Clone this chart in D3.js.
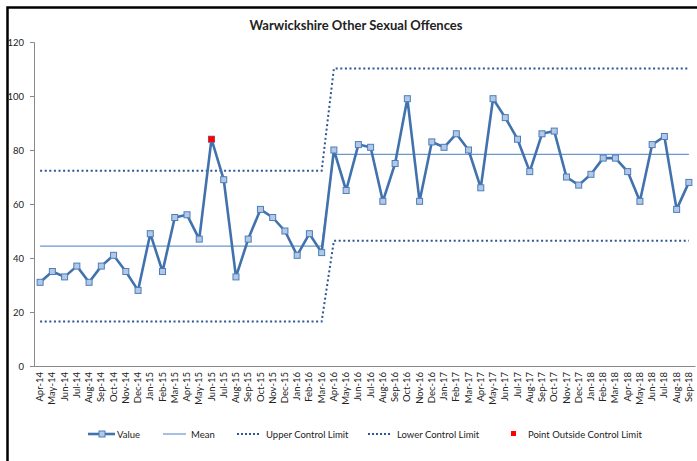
<!DOCTYPE html>
<html>
<head>
<meta charset="utf-8">
<script src="https://cdn.jsdelivr.net/npm/d3@7"></script>
<style>
  body { margin: 0; background: #fff; }
  svg text { font-family: Lato, "Open Sans", sans-serif; fill: #222; }
</style>
</head>
<body>
<script>
// chart data
var months = ["Apr-14","May-14","Jun-14","Jul-14","Aug-14","Sep-14","Oct-14","Nov-14","Dec-14",
  "Jan-15","Feb-15","Mar-15","Apr-15","May-15","Jun-15","Jul-15","Aug-15","Sep-15","Oct-15","Nov-15","Dec-15",
  "Jan-16","Feb-16","Mar-16","Apr-16","May-16","Jun-16","Jul-16","Aug-16","Sep-16","Oct-16","Nov-16","Dec-16",
  "Jan-17","Feb-17","Mar-17","Apr-17","May-17","Jun-17","Jul-17","Aug-17","Sep-17","Oct-17","Nov-17","Dec-17",
  "Jan-18","Feb-18","Mar-18","Apr-18","May-18","Jun-18","Jul-18","Aug-18","Sep-18"];
var values = [31,35,33,37,31,37,41,35,28,
  49,35,55,56,47,84,69,33,47,58,55,50,
  41,49,42,80,65,82,81,61,75,99,61,83,
  81,86,80,66,99,92,84,72,86,87,70,67,
  71,77,77,72,61,82,85,58,68];
// mean / limits per period (period 1: Apr-14..Mar-16, period 2: Apr-16..Sep-18)
var periodStart = [0, 24];
var meanVals = [44.4, 78.4];
var uclVals = [72.3, 110.2];
var lclVals = [16.5, 46.4];
var outside = ["Jun-15"];
var yTicks = [0, 20, 40, 60, 80, 100, 120];

var W = 697, H = 461;
var margin = {top: 42, right: 2, bottom: 95, left: 34},
    width = W - margin.left - margin.right,
    height = H - margin.top - margin.bottom;

var svg = d3.select("body").append("svg")
  .attr("width", W).attr("height", H);

// frame
svg.append("path")
  .attr("d", "M7.5," + (H + 2) + "V7.5H" + (W + 2))
  .attr("fill", "none").attr("stroke", "#000").attr("stroke-width", 2.5);

svg.append("text")
  .attr("x", 356).attr("y", 30)
  .attr("text-anchor", "middle")
  .style("font-size", "13px").style("font-weight", "bold")
  .text("Warwickshire Other Sexual Offences");

var g = svg.append("g")
  .attr("transform", "translate(" + margin.left + "," + margin.top + ")");

var x = d3.scaleBand().domain(months).range([0, width]);
var y = d3.scaleLinear().domain([0, 120]).range([height, 0]);
var cx = function(m) { return x(m) + x.bandwidth() / 2; };

// axes
var yAxis = g.append("g")
  .call(d3.axisLeft(y).tickValues(yTicks).tickSize(4).tickPadding(6));
yAxis.select(".domain").attr("stroke", "#888");
yAxis.selectAll(".tick line").attr("stroke", "#888");
yAxis.selectAll("text").style("font-size", "9.5px").attr("fill", "#222");

var xAxis = g.append("g")
  .attr("transform", "translate(0," + height + ")")
  .call(d3.axisBottom(x).tickSize(0).tickPadding(6).tickSizeOuter(0));
xAxis.select(".domain").attr("stroke", "#888");
xAxis.selectAll("text")
  .style("font-size", "9.5px").attr("fill", "#222")
  .attr("transform", "rotate(-90)")
  .attr("dy", "0.32em").attr("dx", 0).attr("x", -6).attr("y", 0)
  .style("text-anchor", "end");

// build step series for mean/limits
function stepSeries(vals) {
  return months.map(function(m, i) {
    var p = i >= periodStart[1] ? 1 : 0;
    return {m: m, v: vals[p]};
  });
}

var line = d3.line().x(function(d) { return cx(d.m); }).y(function(d) { return y(d.v); });

g.append("path").datum(stepSeries(uclVals))
  .attr("d", line).attr("fill", "none")
  .attr("stroke", "#2f5597").attr("stroke-width", 2)
  .attr("stroke-dasharray", "2,2.6");
g.append("path").datum(stepSeries(lclVals))
  .attr("d", line).attr("fill", "none")
  .attr("stroke", "#2f5597").attr("stroke-width", 2)
  .attr("stroke-dasharray", "2,2.6");
g.append("path").datum(stepSeries(meanVals))
  .attr("d", line).attr("fill", "none")
  .attr("stroke", "#6b97cf").attr("stroke-width", 1.2);

var valData = months.map(function(m, i) { return {m: m, v: values[i]}; });
g.append("path").datum(valData)
  .attr("d", line).attr("fill", "none")
  .attr("stroke", "#4272ad").attr("stroke-width", 2.6)
  .attr("stroke-linejoin", "round");

g.selectAll(".mk").data(valData).enter().append("rect")
  .attr("x", function(d) { return cx(d.m) - 3; })
  .attr("y", function(d) { return y(d.v) - 3; })
  .attr("width", 6).attr("height", 6)
  .attr("fill", "#b4c8e6").attr("stroke", "#4a7ebb").attr("stroke-width", 1);

g.selectAll(".out").data(valData.filter(function(d) { return outside.indexOf(d.m) >= 0; }))
  .enter().append("rect")
  .attr("x", function(d) { return cx(d.m) - 3; })
  .attr("y", function(d) { return y(d.v) - 3; })
  .attr("width", 6).attr("height", 6)
  .attr("fill", "#ff0000");

// legend
var lg = svg.append("g").attr("transform", "translate(0,434)");
lg.append("line").attr("x1", 88).attr("x2", 115).attr("y1", 0).attr("y2", 0)
  .attr("stroke", "#4272ad").attr("stroke-width", 2.6);
lg.append("rect").attr("x", 99).attr("y", -3).attr("width", 6).attr("height", 6)
  .attr("fill", "#b4c8e6").attr("stroke", "#4a7ebb");
lg.append("text").attr("x", 117).attr("y", 3.5).style("font-size", "9.5px").text("Value");

lg.append("line").attr("x1", 163).attr("x2", 186).attr("y1", 0).attr("y2", 0)
  .attr("stroke", "#6b97cf").attr("stroke-width", 1.2);
lg.append("text").attr("x", 191).attr("y", 3.5).style("font-size", "9.5px").text("Mean");

lg.append("line").attr("x1", 237).attr("x2", 260).attr("y1", 0).attr("y2", 0)
  .attr("stroke", "#2f5597").attr("stroke-width", 2).attr("stroke-dasharray", "2,2");
lg.append("text").attr("x", 266).attr("y", 3.5).style("font-size", "9.5px").text("Upper Control Limit");

lg.append("line").attr("x1", 368).attr("x2", 392).attr("y1", 0).attr("y2", 0)
  .attr("stroke", "#2f5597").attr("stroke-width", 2).attr("stroke-dasharray", "2,2");
lg.append("text").attr("x", 397).attr("y", 3.5).style("font-size", "9.5px").text("Lower Control Limit");

lg.append("rect").attr("x", 511).attr("y", -3).attr("width", 5).attr("height", 5)
  .attr("fill", "#ff0000");
lg.append("text").attr("x", 528).attr("y", 3.5).style("font-size", "9.5px").text("Point Outside Control Limit");
</script>
</body>
</html>
